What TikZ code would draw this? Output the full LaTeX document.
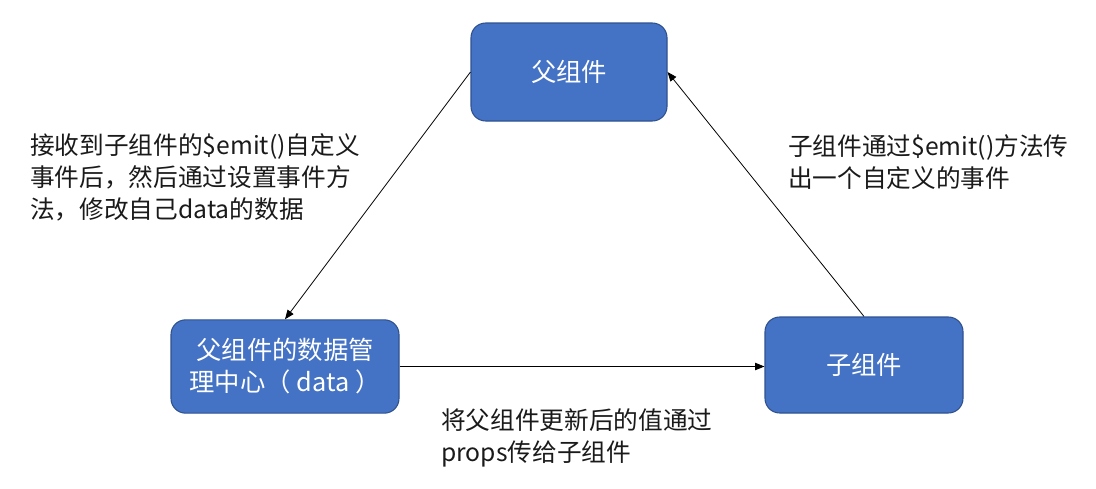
\documentclass[tikz,border=0pt]{standalone}
\usepackage{fontspec}
\setmainfont{Noto Sans CJK SC}
\usetikzlibrary{arrows.meta}
\definecolor{boxblue}{HTML}{4472C4}
\definecolor{boxline}{HTML}{2F528F}
\definecolor{inkgray}{HTML}{1A1A1A}
\begin{document}
\begin{tikzpicture}[x=0.75pt, y=-0.75pt,
    compbox/.style={draw=boxline, fill=boxblue, rounded corners=11pt, line width=0.8pt,
      text=white, align=center, inner sep=0pt, font=\fontsize{19}{24}\selectfont},
    note/.style={anchor=north west, align=left, inner sep=0pt, text=inkgray,
      font=\fontsize{18.5}{24}\selectfont},
    flow/.style={-{Triangle[length=7pt, width=5.5pt]}, line width=0.6pt, black}]
        \useasboundingbox (0, 0) rectangle (1096, 489);

        % the three parts
        \node [compbox, minimum width=147pt, minimum height=73.5pt] (parent) at (569, 72) {父组件};
        \node [compbox, minimum width=171pt, minimum height=70pt] (datactr) at (285, 366.5) {父组件的数据管\\理中心（ data ）};
        \node [compbox, minimum width=148.5pt, minimum height=72pt] (child) at (864, 365) {子组件};

        % data flow
        \draw [flow] (parent.west) -- (datactr.north);
        \draw [flow] (datactr.east) -- (datactr.east -| child.west);
        \draw [flow] (child.north) -- (parent.east);

        % notes
        \node [note] (leftnote) at (30, 133) {接收到子组件的\$emit()自定义\\事件后，然后通过设置事件方\\法，修改自己data的数据};
        \node [note] (rightnote) at (788, 134) {子组件通过\$emit()方法传\\出一个自定义的事件};
        \node [note] (bottomnote) at (441, 408) {将父组件更新后的值通过\\props传给子组件};
\end{tikzpicture}
\end{document}
